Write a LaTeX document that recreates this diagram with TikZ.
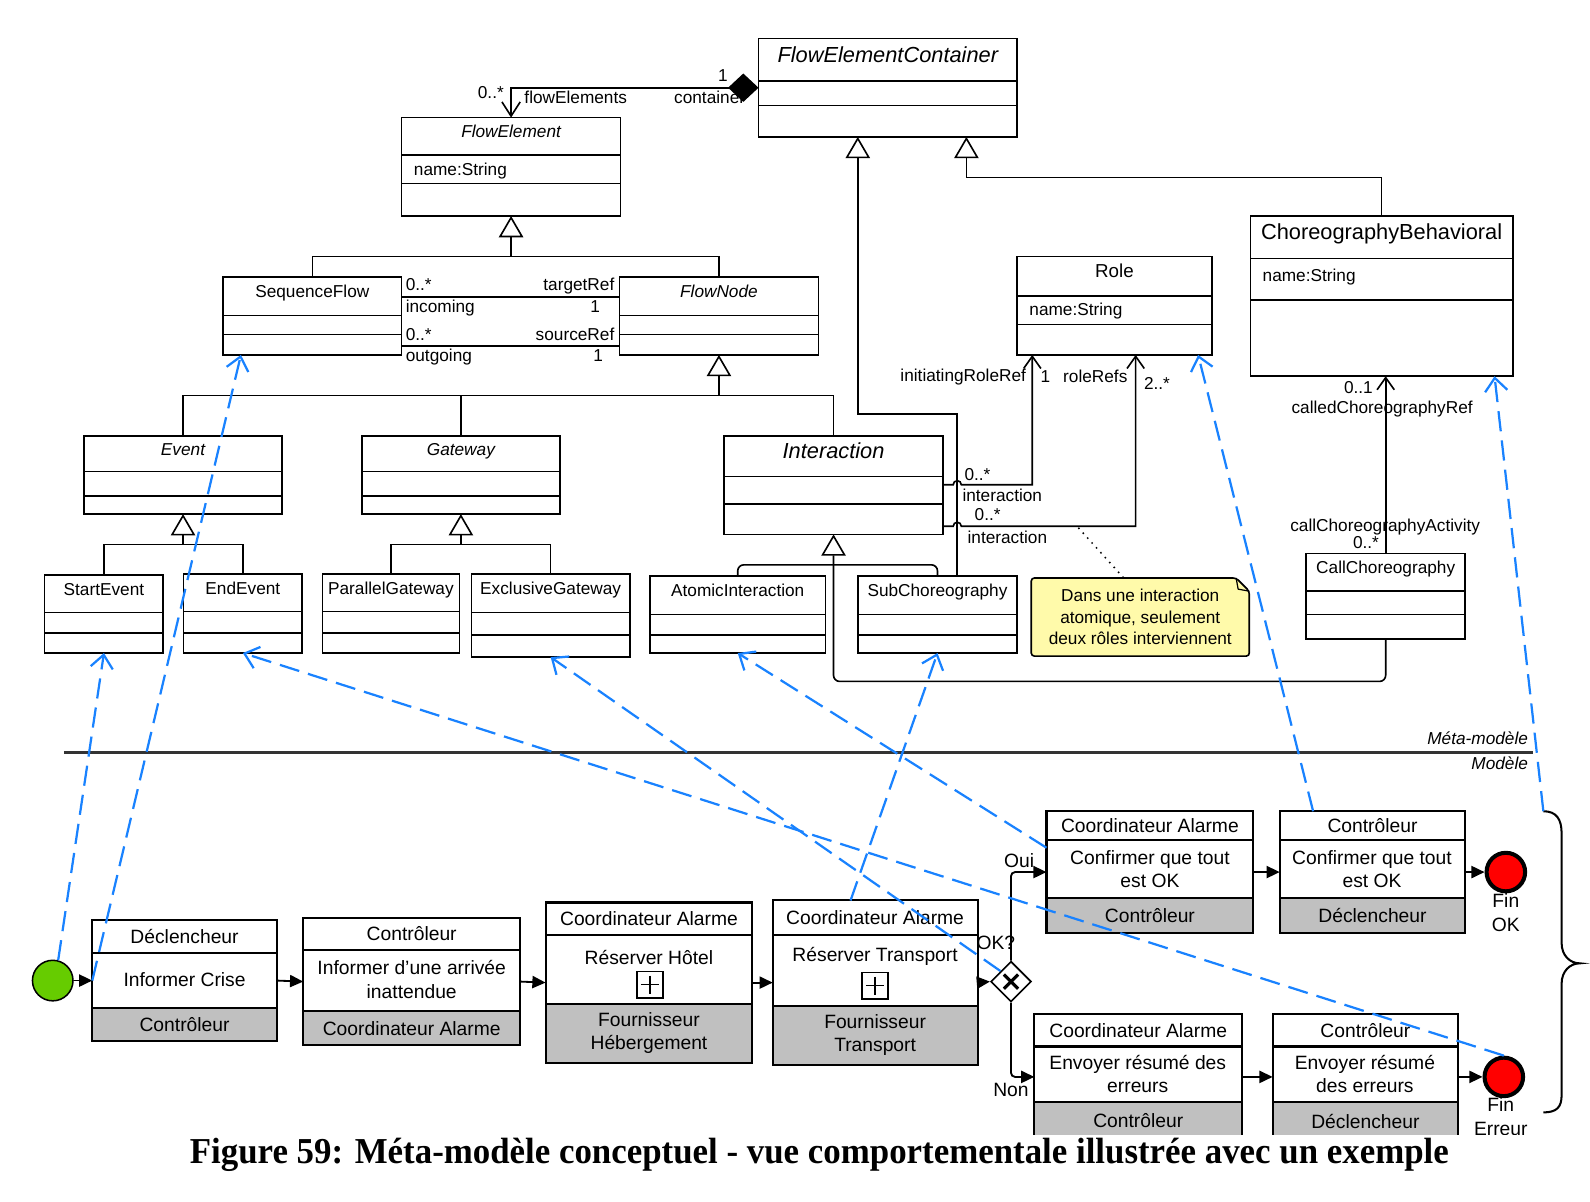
\documentclass[tikz,border=0pt]{standalone}
\usepackage{fontspec}
\setmainfont{Liberation Sans}
\newfontfamily\capfont[FakeStretch=0.955]{Liberation Serif}
\usetikzlibrary{arrows.meta,calc,shapes.geometric}

\definecolor{bluel}{RGB}{25,130,255}
\definecolor{greyband}{RGB}{192,192,192}
\definecolor{noteyel}{RGB}{255,250,170}
\definecolor{startgreen}{RGB}{102,204,0}

\tikzset{
  clsbox/.style={draw, line width=1.6pt, fill=white, inner sep=0pt, outer sep=0pt},
  clsline/.style={line width=1.6pt},
  ttl/.style={inner sep=0pt, text height=12.5pt, text depth=3.5pt, font=\fontsize{17}{20}\selectfont},
  lab/.style={inner sep=0pt, text height=12.5pt, text depth=3.5pt, font=\fontsize{17}{20}\selectfont},
  bigttl/.style={text height=15.5pt, text depth=4.5pt},
  assoc/.style={line width=1.6pt},
  assocarr/.style={line width=1.6pt, arrows={-Straight Barb[length=12pt,width=17pt]}},
  comp/.style={line width=1.6pt, arrows={Diamond[length=30pt,width=28pt]-Straight Barb[length=14pt,width=18pt]}},
  gen/.style={line width=1.6pt, arrows={-Triangle[length=21pt,width=24pt,fill=white]}},
  blink/.style={draw=bluel, line width=2.2pt, dash pattern=on 20pt off 9pt, arrows={-Straight Barb[length=13pt,width=22pt]}},
  flow/.style={line width=1.8pt, arrows={-Triangle[length=13pt,width=12pt]}},
  taskbox/.style={draw, line width=2pt, inner sep=0pt, outer sep=0pt},
  tline/.style={line width=2pt},
  mtxt/.style={inner sep=0pt, align=center, font=\fontsize{19}{23}\selectfont},
}

\newcommand{\umlcls}[9]{%
  \node[clsbox, minimum width={(#4-#2)*1pt}, minimum height={(#5-#3)*1pt}] (#1) at ({(#2+#4)/2},{(#3+#5)/2}) {};
  \draw[clsline] (#2,#6) -- (#4,#6);
  \draw[clsline] (#2,#7) -- (#4,#7);
  \node[ttl, #8] (#1-t) at ({(#2+#4)/2},{(#3+#6)/2-3}) {#9};
}

\newcommand{\chtask}[9]{%
  \fill[white] (#2,#3) rectangle (#4,#5);
  \fill[greyband] (#2,#7) rectangle (#4,#5);
  \node[taskbox, minimum width={(#4-#2)*1pt}, minimum height={(#5-#3)*1pt}] (#1) at ({(#2+#4)/2},{(#3+#5)/2}) {};
  \draw[tline] (#2,#6) -- (#4,#6);
  \draw[tline] (#2,#7) -- (#4,#7);
  \node[mtxt] (#1-top) at ({(#2+#4)/2},{(#3+#6)/2}) {#8};
  \node[mtxt] (#1-bot) at ({(#2+#4)/2},{(#7+#5)/2}) {#9};
}

\begin{document}
\begin{tikzpicture}[x=1pt,y=-1pt]
\useasboundingbox (0,0) rectangle (1568,1185);
\begin{scope}
\clip (0,0) rectangle (1568,1119);

% ---------------- meta-model classes ----------------
\umlcls{FEC}{748}{38}{1003}{135}{80}{104}{bigttl, font=\itshape\fontsize{21.5}{25}\selectfont}{FlowElementContainer}
\umlcls{FE}{396}{116}{612}{213}{153}{181}{font=\itshape\fontsize{17}{20}\selectfont}{FlowElement}
\umlcls{SF}{220}{273}{396}{350}{311}{330}{}{SequenceFlow}
\umlcls{FN}{611}{273}{807}{350}{311}{330}{font=\itshape\fontsize{17}{20}\selectfont}{FlowNode}
\umlcls{EV}{83}{430}{278}{507}{465}{489}{font=\itshape\fontsize{17}{20}\selectfont}{Event}
\umlcls{GW}{357}{430}{552}{507}{465}{489}{font=\itshape\fontsize{17}{20}\selectfont}{Gateway}
\umlcls{IA}{714}{430}{930}{527}{470}{497}{bigttl, font=\itshape\fontsize{21.5}{25}\selectfont}{Interaction}
\umlcls{SE}{44}{567}{161}{644}{604}{624}{}{StartEvent}
\umlcls{EE}{181}{566}{298}{644}{603}{624}{}{EndEvent}
\umlcls{PG}{318}{566}{453}{644}{603}{624}{}{ParallelGateway}
\umlcls{XG}{465}{566}{621}{648}{604}{626}{}{ExclusiveGateway}
\umlcls{AI}{641}{568}{814}{644}{606}{626}{}{AtomicInteraction}
\umlcls{SC}{846}{568}{1003}{644}{606}{626}{}{SubChoreography}
\umlcls{RO}{1003}{253}{1195}{350}{292}{320}{font=\fontsize{18.5}{22}\selectfont}{Role}
\umlcls{CB}{1233}{213}{1492}{371}{255}{296}{bigttl, font=\fontsize{21.5}{25}\selectfont}{ChoreographyBehavioral}
\umlcls{CC}{1288}{546}{1445}{630}{583}{606}{}{CallChoreography}

\node[lab, anchor=west] (FE-at) at (408,169) {name:String};
\node[lab, anchor=west] (RO-at) at (1015,307) {name:String};
\node[lab, anchor=west] (CB-at) at (1245,273) {name:String};

% ---------------- meta-model connectors ----------------
\draw[comp] (FEC.west) -| (FE.north);
\node[lab] (L1) at (713,76) {1};
\node[lab, anchor=east] (L2) at (735,98) {container};
\node[lab, anchor=east] (L3) at (497,93) {0..*};
\node[lab, anchor=west] (L4) at (517,98) {flowElements};

\coordinate (j1) at (FE.south |- 0,253);
\draw[assoc] (SF.north) |- (FN.north |- j1) -- (FN.north);
\draw[gen] (j1) -- (FE.south);

\draw[assoc] (SF.east |- 0,293) -- (FN.west |- 0,293);
\draw[assoc] (SF.east |- 0,341) -- (FN.west |- 0,341);
\node[lab, anchor=west] (L5) at (400,282) {0..*};
\node[lab, anchor=east] (L6) at (606,282) {targetRef};
\node[lab, anchor=west] (L7) at (400,304) {incoming};
\node[lab] (L8) at (587,304) {1};
\node[lab, anchor=west] (L9) at (400,331) {0..*};
\node[lab, anchor=east] (L10) at (606,331) {sourceRef};
\node[lab, anchor=west] (L11) at (400,352) {outgoing};
\node[lab] (L12) at (590,352) {1};

\coordinate (j2) at (FN.south |- 0,390);
\draw[assoc] (EV.north) |- (IA.north |- j2) -- (IA.north);
\draw[assoc] (GW.north) -- (GW.north |- j2);
\draw[gen] (j2) -- (FN.south);

\coordinate (j3) at (EV.south |- 0,537);
\draw[assoc] (SE.north) |- (EE.north |- j3) -- (EE.north);
\draw[gen] (j3) -- (EV.south);

\coordinate (j4) at (GW.south |- 0,537);
\draw[assoc] (PG.north) |- (XG.north |- j4) -- (XG.north);
\draw[gen] (j4) -- (GW.south);

\coordinate (j5) at (IA.south |- 0,557);
\draw[assoc, rounded corners=6pt] (AI.north) |- (SC.north |- j5) -- (SC.north);
\draw[gen, rounded corners=6pt] (CC.south) |- (IA.south |- 0,672) -- (IA.south);

\coordinate (fecA) at ($(FEC.south west)!0.384!(FEC.south east)$);
\coordinate (fecB) at ($(FEC.south west)!0.804!(FEC.south east)$);
\coordinate (scA) at ($(SC.north west)!0.624!(SC.north east)$);
\draw[gen] (scA) |- (fecA |- 0,408) -- (fecA);
\draw[gen] (CB.north) |- (fecB |- 0,175) -- (fecB);

\coordinate (ro1) at ($(RO.south west)!0.078!(RO.south east)$);
\coordinate (ro2) at ($(RO.south west)!0.609!(RO.south east)$);
\draw[assocarr] (IA.east |- 0,478) -- (940,478) arc[start angle=180, end angle=0, radius=4pt] -- (ro1 |- 0,478) -- (ro1);
\draw[assocarr] (IA.east |- 0,519) -- (940,519) arc[start angle=180, end angle=0, radius=4pt] -- (ro2 |- 0,519) -- (ro2);
\node[lab, anchor=east] (L13) at (1012,372) {initiatingRoleRef};
\node[lab] (L14) at (1031,373) {1};
\node[lab, anchor=east] (L15) at (1112,373) {roleRefs};
\node[lab, anchor=west] (L16) at (1128,380) {2..*};
\node[lab, anchor=west] (L17) at (951,469) {0..*};
\node[lab, anchor=west] (L18) at (949,490) {interaction};
\node[lab, anchor=west] (L19) at (961,509) {0..*};
\node[lab, anchor=west] (L20) at (954,531) {interaction};

\draw[assocarr] (CC.north) -- (CC.north |- CB.south);
\node[lab, anchor=east] (L21) at (1354,384) {0..1};
\node[lab] (L22) at (1363,403) {calledChoreographyRef};
\node[lab] (L23) at (1366,520) {callChoreographyActivity};
\node[lab, anchor=east] (L24) at (1360,536) {0..*};

% note
\draw[line width=1.6pt, fill=noteyel, rounded corners=3pt] (1017,570) -- (1219,570) -- (1232,583) -- (1232,647) -- (1017,647) -- cycle;
\draw[line width=1.2pt] (1219,570) -- (1221,581) -- (1232,583);
\node[inner sep=0pt, minimum width=215pt, minimum height=77pt, align=center, font=\fontsize{17}{21}\selectfont] (note) at (1124.5,608.5) {Dans une interaction\\atomique, seulement\\deux rôles interviennent};
\coordinate (dn) at (1063,520);
\draw[line width=1.5pt, dash pattern=on 1.5pt off 5pt] (note.north -| 1108,0) -- (dn);

% separator
\draw[line width=2.5pt, draw=black!80] (63,742) -- (1512,742);
\node[lab, anchor=east, font=\itshape\fontsize{17}{20}\selectfont] (mm1) at (1507,730) {Méta-modèle};
\node[lab, anchor=east, font=\itshape\fontsize{17}{20}\selectfont] (mm2) at (1507,754) {Modèle};

% ---------------- model ----------------
\chtask{T1}{91}{907}{273}{1027}{940}{994}{Déclencheur}{Contrôleur}
\node[mtxt] (T1-m) at (182,966) {Informer Crise};
\chtask{T2}{299}{905}{513}{1031}{937}{997}{Contrôleur}{Coordinateur Alarme}
\node[mtxt] (T2-m) at (406,966) {Informer d\symbol{39}une arrivée\\inattendue};
\chtask{T3}{538}{890}{742}{1048}{922}{990}{Coordinateur Alarme}{Fournisseur\\Hébergement}
\node[mtxt] (T3-m) at (640,944) {Réserver Hôtel};
\chtask{T4}{762}{888}{964}{1050}{922}{992}{Coordinateur Alarme}{Fournisseur\\Transport}
\node[mtxt] (T4-m) at (863,943) {Réserver Transport};
\chtask{T5}{1032}{800}{1236}{920}{828}{886}{Coordinateur Alarme}{Contrôleur}
\node[mtxt] (T5-m) at (1134,857) {Confirmer que tout\\est OK};
\chtask{T6}{1262}{800}{1445}{920}{828}{886}{Contrôleur}{Déclencheur}
\node[mtxt] (T6-m) at (1353,857) {Confirmer que tout\\est OK};
\chtask{T7}{1020}{1000}{1225}{1124}{1032}{1087}{Coordinateur Alarme}{Contrôleur}
\node[mtxt] (T7-m) at (1122,1059) {Envoyer résumé des\\erreurs};
\chtask{T8}{1255}{1000}{1438}{1124}{1032}{1087}{Contrôleur}{Déclencheur}
\node[mtxt] (T8-m) at (1346,1059) {Envoyer résumé\\des erreurs};

% sub-process markers
\node[draw, line width=1.6pt, minimum size=26pt, inner sep=0pt] (P3) at (641,971) {};
\draw[line width=1.6pt] ($(P3.center)+(-9,0)$) -- ($(P3.center)+(9,0)$);
\draw[line width=1.6pt] ($(P3.center)+(0,-9)$) -- ($(P3.center)+(0,9)$);
\node[draw, line width=1.6pt, minimum size=26pt, inner sep=0pt] (P4) at (863,972) {};
\draw[line width=1.6pt] ($(P4.center)+(-9,0)$) -- ($(P4.center)+(9,0)$);
\draw[line width=1.6pt] ($(P4.center)+(0,-9)$) -- ($(P4.center)+(0,9)$);

% events and gateway
\node[circle, draw, line width=1.5pt, fill=startgreen, minimum size=40pt, inner sep=0pt] (st) at (52,967) {};
\node[circle, draw, line width=4pt, fill=red, minimum size=38pt, inner sep=0pt] (eok) at (1485,860) {};
\node[circle, draw, line width=4pt, fill=red, minimum size=38pt, inner sep=0pt] (eerr) at (1483,1062) {};
\node[diamond, draw, line width=1.6pt, fill=white, minimum width=40pt, minimum height=40pt, inner sep=0pt] (gw) at (997,968) {};
\draw[line width=3.2pt] ($(gw.center)+(-7,-7)$) -- ($(gw.center)+(7,7)$);
\draw[line width=3.2pt] ($(gw.center)+(-7,7)$) -- ($(gw.center)+(7,-7)$);

% sequence flows
\draw[flow] (st.east) -- (T1.west);
\draw[flow] (T1.east) -- (T2.west);
\draw[flow] (T2.east) -- (T3.west);
\draw[flow] (T3.east) -- (T4.west);
\draw[flow] (T4.east) -- (gw.west);
\draw[flow, rounded corners=4pt] (gw.north) |- (T5.west);
\draw[flow, rounded corners=4pt] (gw.south) |- (T7.west);
\draw[flow] (T5.east) -- (T6.west);
\draw[flow] (T6.east) -- (eok.west);
\draw[flow] (T7.east) -- (T8.west);
\draw[flow] (T8.east) -- (eerr.west);

\node[mtxt] (M1) at (982,930) {OK?};
\node[mtxt] (M2) at (1005,849) {Oui};
\node[mtxt] (M3) at (997,1075) {Non};
\node[mtxt] (M4) at (1485,900) {Fin\\OK};
\node[mtxt] (M5) at (1480,1101) {Fin\\Erreur};

% brace
\coordinate (br) at (1522,800);
\draw[line width=2pt] (br) .. controls (1535,800) and (1540,808) .. (1540,822) -- (1540,930) .. controls (1540,942) and (1548,950) .. (1558,950) .. controls (1548,950) and (1540,958) .. (1540,970) -- (1540,1080) .. controls (1540,1092) and (1535,1097) .. (1522,1097);

% ---------------- instance-of links ----------------
\coordinate (sf1) at ($(SF.south west)!0.1!(SF.south east)$);
\coordinate (t5a) at ($(T5.north west)!0.3!(T5.south west)$);
\coordinate (t4a) at ($(T4.north west)!0.38!(T4.north east)$);
\coordinate (t6a) at ($(T6.north west)!0.18!(T6.north east)$);
\coordinate (ro3) at ($(RO.south west)!0.93!(RO.south east)$);
\coordinate (cb1) at ($(CB.south west)!0.93!(CB.south east)$);
\draw[blink] (st.75) -- (SE.south);
\draw[blink] (T1.west) -- (sf1);
\draw[blink] (eerr.north) -- (EE.south);
\draw[blink] (gw.north west) -- (XG.south);
\draw[blink] (t5a) -- (AI.south);
\draw[blink] (t4a) -- (SC.south);
\draw[blink] (t6a) -- (ro3);
\draw[blink] (br) -- (cb1);
\end{scope}

\node[font=\capfont\bfseries\fontsize{36}{40}\selectfont, inner sep=0pt] (cap) at (808,1139) {Figure 59: Méta-modèle conceptuel - vue comportementale illustrée avec un exemple};
\end{tikzpicture}
\end{document}
